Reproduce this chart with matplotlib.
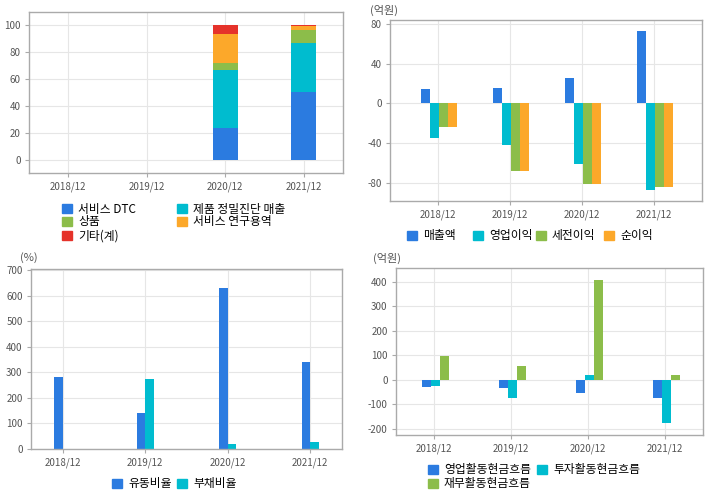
import matplotlib
matplotlib.use("Agg")
import matplotlib.pyplot as plt
from matplotlib.patches import Patch
import numpy as np

plt.rcParams['font.family'] = ['Noto Sans CJK KR', 'DejaVu Sans']

years = ["2018/12", "2019/12", "2020/12", "2021/12"]

# Panel 1: revenue mix (%)
mix_names = ["서비스 DTC", "제품 정밀진단 매출", "상품", "서비스 연구용역", "기타(계)"]
mix_dtc = [0, 0, 24.0, 50.5]
mix_prod = [0, 0, 43.0, 36.5]
mix_goods = [0, 0, 5.0, 9.5]
mix_research = [0, 0, 21.5, 3.0]
mix_other = [0, 0, 6.5, 0.5]

# Panel 2: income (억원)
inc_names = ["매출액", "영업이익", "세전이익", "순이익"]
revenue = [14.4, 15.4, 25.5, 72.5]
op_income = [-34.6, -41.7, -60.9, -87.0]
pretax = [-23.5, -68.0, -81.7, -84.0]
net_income = [-23.5, -68.0, -81.7, -84.0]

# Panel 3: ratios (%)
ratio_names = ["유동비율", "부채비율"]
current_ratio = [283, 141, 631, 341]
debt_ratio = [0, 275, 20, 27]

# Panel 4: cash flows (억원)
cf_names = ["영업활동현금흐름", "투자활동현금흐름", "재무활동현금흐름"]
cf_oper = [-31, -35, -52, -72]
cf_invest = [-23, -72, 21, -175]
cf_fin = [98, 57, 410, 21]

BLUE = "#2b7be0"
CYAN = "#00bccf"
GREEN = "#8cbd4a"
ORANGE = "#fca82a"
RED = "#e5322a"

TICK_COLOR = "#555555"
SPINE = "#aaaaaa"
GRID = "#e6e6e6"

fig = plt.figure(figsize=(7.2, 4.96), dpi=100)
W, H = 720, 496
LFS = 8.5


def add_axes(l, t, r, b):
    return fig.add_axes([l / W, 1 - b / H, (r - l) / W, (b - t) / H])


def style(ax, yticks, ylim, xlim):
    x = np.arange(len(years))
    ax.set_xlim(*xlim)
    ax.set_ylim(*ylim)
    ax.set_xticks(x)
    ax.set_xticklabels(years)
    ax.set_yticks(yticks)
    ax.set_yticklabels([str(v) for v in yticks])
    for s in ax.spines.values():
        s.set_color(SPINE)
        s.set_linewidth(1.0)
    ax.tick_params(axis='both', colors=SPINE, labelcolor=TICK_COLOR, labelsize=7,
                   length=3, width=0.8, pad=3)
    ax.grid(True, color=GRID, linewidth=0.8)
    ax.set_axisbelow(True)


def legend_item(color, label, lx, cy):
    leg = fig.legend([Patch(color=color)], [label], loc='center left',
                     bbox_to_anchor=(lx / W, 1 - cy / H), frameon=False,
                     fontsize=LFS, handlelength=0.85, handleheight=0.85,
                     handletextpad=0.5, borderpad=0, borderaxespad=0)
    return leg


x = np.arange(len(years))

# ---- Panel 1
ax1 = add_axes(29, 12, 343, 173)
w = 0.32
bottom = np.zeros(4)
cols1 = [BLUE, CYAN, GREEN, ORANGE, RED]
for vals, c in zip([mix_dtc, mix_prod, mix_goods, mix_research, mix_other], cols1):
    ax1.bar(x, vals, w, bottom=bottom, color=c, linewidth=0)
    bottom = bottom + np.array(vals)
style(ax1, [0, 20, 40, 60, 80, 100], (-9.6, 109.6), (-0.5, 3.5))
pos1 = [(62, 209), (177, 209), (62, 222), (177, 222), (62, 236)]
for (lx, cy), c, name in zip(pos1, cols1, mix_names):
    legend_item(c, name, lx, cy)

# ---- Panel 2
ax2 = add_axes(390, 20, 702, 201)
w = 0.125
cols2 = [BLUE, CYAN, GREEN, ORANGE]
for i, (vals, c) in enumerate(zip([revenue, op_income, pretax, net_income], cols2)):
    ax2.bar(x + (i - 1.5) * w + 0.02, vals, w, color=c, linewidth=0)
style(ax2, [-80, -40, 0, 40, 80], (-98.5, 84), (-0.667, 3.667))
fig.text(370 / W, 1 - 10 / H, "(억원)", fontsize=8, color=TICK_COLOR, va='center')
for lx, c, name in zip([407, 473, 536, 604], cols2, inc_names):
    legend_item(c, name, lx, 236)

# ---- Panel 3
ax3 = add_axes(31, 269, 342, 449)
w = 0.105
ax3.bar(x - 0.5 * w, current_ratio, w, color=BLUE, linewidth=0)
ax3.bar(x + 0.5 * w, debt_ratio, w, color=CYAN, linewidth=0)
style(ax3, list(range(0, 701, 100)), (0, 705), (-0.385, 3.385))
fig.text(20 / W, 1 - 258 / H, "(%)", fontsize=8, color=TICK_COLOR, va='center')
for lx, c, name in zip([112, 177], [BLUE, CYAN], ratio_names):
    legend_item(c, name, lx, 484)

# ---- Panel 4
ax4 = add_axes(396, 268, 703, 435)
w = 0.118
cols4 = [BLUE, CYAN, GREEN]
for i, (vals, c) in enumerate(zip([cf_oper, cf_invest, cf_fin], cols4)):
    ax4.bar(x + (i - 1) * w + 0.02, vals, w, color=c, linewidth=0)
style(ax4, [-200, -100, 0, 100, 200, 300, 400], (-225, 457), (-0.5, 3.5))
fig.text(373 / W, 1 - 258 / H, "(억원)", fontsize=8, color=TICK_COLOR, va='center')
for (lx, cy), c, name in zip([(428, 470), (537, 470), (428, 484)], cols4, cf_names):
    legend_item(c, name, lx, cy)

fig.savefig("out.png", dpi=100)
